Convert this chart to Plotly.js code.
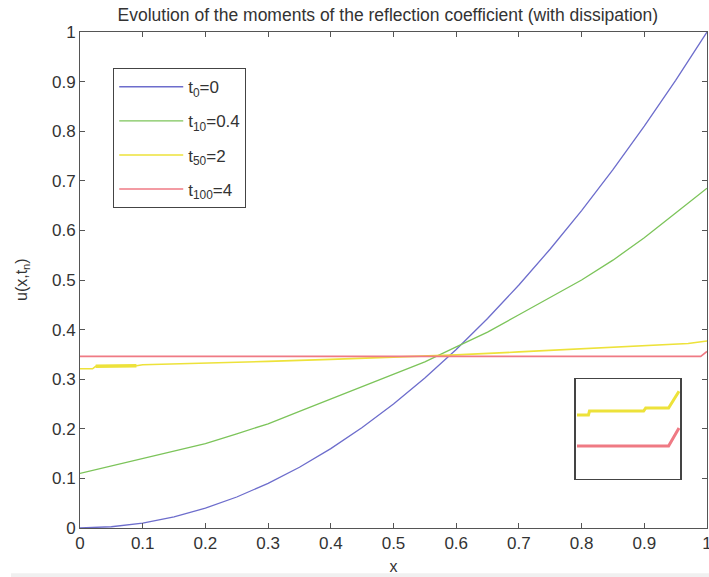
<!DOCTYPE html>
<html>
<head>
<meta charset="utf-8">
<script src="https://cdn.plot.ly/plotly-3.0.1.min.js"></script>
<style>html,body{margin:0;padding:0;background:#fff;}#chart{width:709px;height:577px;}</style>
</head>
<body>
<div id="chart"></div>
<script>
// x grid for the smooth curves
const xGrid = [0,0.05,0.1,0.15,0.2,0.25,0.3,0.35,0.4,0.45,0.5,0.55,0.6,0.65,0.7,0.75,0.8,0.85,0.9,0.95,1.0];
// t0 = 0
const uT0 = [0,0.0025,0.01,0.0225,0.04,0.0625,0.09,0.1225,0.16,0.2025,0.25,0.3025,0.36,0.4225,0.49,0.5625,0.64,0.7225,0.81,0.9025,1.0];
// t10 = 0.4
const uT10 = [0.11,0.125,0.14,0.155,0.17,0.19,0.21,0.235,0.26,0.285,0.31,0.335,0.365,0.395,0.43,0.465,0.50,0.54,0.585,0.635,0.685];
// t50 = 2
const xT50 = [0,0.02,0.025,0.09,0.1,0.2,0.3,0.4,0.5,0.6,0.7,0.8,0.9,0.97,1.0];
const uT50 = [0.321,0.321,0.326,0.327,0.329,0.332,0.336,0.34,0.344,0.349,0.355,0.361,0.367,0.372,0.377];
// thicker early segment of t50
const xT50seg = [0.025,0.09];
const uT50seg = [0.326,0.327];
// t100 = 4
const xT100 = [0,0.5,0.99,1.0];
const uT100 = [0.346,0.346,0.346,0.356];
// inset (zoomed view, normalized units)
const xInsetY = [0.01,0.12,0.13,0.65,0.67,0.89,0.99];
const yInsetY = [0.64,0.64,0.68,0.68,0.71,0.71,0.88];
const xInsetR = [0.01,0.89,0.99];
const yInsetR = [0.33,0.33,0.51];

const names = ['t<sub>0</sub>=0','t<sub>10</sub>=0.4','t<sub>50</sub>=2','t<sub>100</sub>=4'];
const colors = ['#6d6dcc','#7cc45a','#ede23a','#ef7a84'];

const traces = [
  {x:xGrid, y:uT0, name:names[0], legendgroup:'a', line:{color:colors[0],width:1.3}},
  {x:xGrid, y:uT10, name:names[1], legendgroup:'b', line:{color:colors[1],width:1.3}},
  {x:xT50, y:uT50, name:names[2], legendgroup:'c', line:{color:colors[2],width:1.6}},
  {x:xT100, y:uT100, name:names[3], legendgroup:'d', line:{color:colors[3],width:1.6}},
  {x:xT50seg, y:uT50seg, showlegend:false, line:{color:colors[2],width:3.5}},
  {x:xInsetY, y:yInsetY, xaxis:'x2', yaxis:'y2', showlegend:false, line:{color:colors[2],width:3}},
  {x:xInsetR, y:yInsetR, xaxis:'x2', yaxis:'y2', showlegend:false, line:{color:colors[3],width:3}}
].map(t => Object.assign({type:'scatter', mode:'lines', hoverinfo:'skip'}, t));

const FF = 'Liberation Sans, Arial, sans-serif';
const axisFont = {family:FF, size:17, color:'#333'};
const layout = {
  width:709, height:577,
  margin:{l:80, r:2, t:32, b:49},
  paper_bgcolor:'#fff', plot_bgcolor:'#fff',
  font:{family:FF, color:'#333'},
  title:{text:'Evolution of the moments of the reflection coefficient (with dissipation)',
         font:{family:FF, size:17.5, color:'#333'},
         x:0.547, xanchor:'center', y:0.975, yanchor:'middle'},
  xaxis:{range:[0,1], dtick:0.1, tick0:0, showgrid:false, zeroline:false,
         showline:true, linecolor:'#555', linewidth:1, mirror:'ticks',
         ticks:'inside', ticklen:5, tickcolor:'#555', tickfont:axisFont,
         ticklabeloverflow:'allow',
         title:{text:'x', font:{family:FF, size:16, color:'#333'}, standoff:8}},
  yaxis:{range:[0,1], dtick:0.1, tick0:0, showgrid:false, zeroline:false,
         showline:true, linecolor:'#555', linewidth:1, mirror:'ticks',
         ticks:'inside', ticklen:5, tickcolor:'#555', tickfont:axisFont,
         ticklabeloverflow:'allow'},
  xaxis2:{domain:[0.791,0.957], anchor:'y2', range:[0,1], showticklabels:false, ticks:'',
          showgrid:false, zeroline:false, showline:true, mirror:true, linecolor:'#444', linewidth:1.5},
  yaxis2:{domain:[0.099,0.300], anchor:'x2', range:[0,1], showticklabels:false, ticks:'',
          showgrid:false, zeroline:false, showline:true, mirror:true, linecolor:'#444', linewidth:1.5},
  legend:{x:0.053, y:0.927, xanchor:'left', yanchor:'top', bgcolor:'#fff',
          bordercolor:'#444', borderwidth:1, itemwidth:64, tracegroupgap:9,
          font:{family:FF, size:17, color:'#333'}},
  annotations:[{text:'u(x,t<sub>n</sub>)', xref:'paper', yref:'paper', x:-0.0925, y:0.5,
                xanchor:'center', yanchor:'middle', textangle:-90, showarrow:false,
                font:{family:FF, size:16, color:'#333'}}],
  shapes:[{type:'rect', xref:'paper', yref:'paper', x0:-0.11, x1:1.01, y0:-0.091, y1:-0.1, fillcolor:'#f0f0f0', line:{width:0}, layer:'below'}],
  showlegend:true
};
Plotly.newPlot('chart', traces, layout, {staticPlot:true, displayModeBar:false});
</script>
</body>
</html>
